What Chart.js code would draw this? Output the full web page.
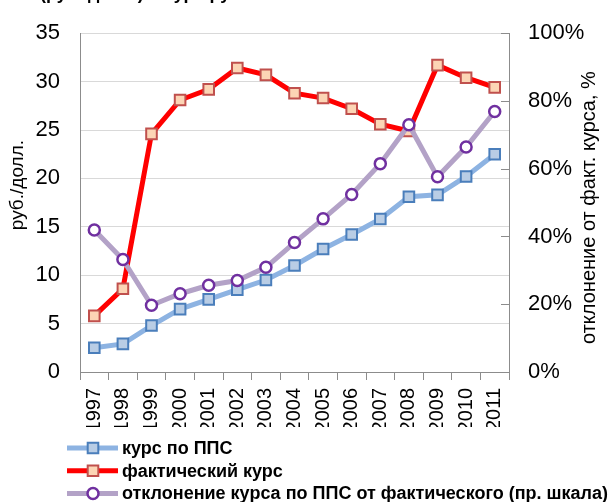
<!DOCTYPE html>
<html>
<head>
<meta charset="utf-8">
<script src="https://cdn.jsdelivr.net/npm/chart.js@4/dist/chart.umd.min.js"></script>
<style>
html,body{margin:0;padding:0;background:#fff;}
#wrap{width:614px;height:502px;position:relative;}
</style>
</head>
<body>
<div id="wrap"><canvas id="c" width="614" height="502"></canvas></div>
<script>
const years = ['1997','1998','1999','2000','2001','2002','2003','2004','2005','2006','2007','2008','2009','2010','2011'];
const pppRate = [2.5, 2.9, 4.8, 6.5, 7.5, 8.5, 9.5, 11.0, 12.7, 14.2, 15.8, 18.1, 18.3, 20.2, 22.5];
const actualRate = [5.8, 8.6, 24.6, 28.1, 29.2, 31.4, 30.7, 28.8, 28.3, 27.2, 25.6, 24.9, 31.7, 30.4, 29.4];
const deviationPct = [41.9, 33.2, 19.7, 23.1, 25.6, 27.0, 30.9, 38.2, 45.2, 52.4, 61.5, 73.0, 57.6, 66.4, 76.9];
const seriesNames = ['курс по ППС', 'фактический курс', 'отклонение курса по ППС от фактического (пр. шкала)'];
const leftTitle = 'руб./долл.';
const rightTitle = 'отклонение от факт. курса, %';
const topTitle = '(руб./долл.) и курс рубля по ППС';

const FONT = "'Liberation Sans', Arial, sans-serif";
Chart.defaults.color = '#000';
Chart.defaults.font.family = FONT;

const decor = {
  id: 'decor',
  beforeDatasetsDraw(chart) {
    const {ctx, chartArea: a, scales} = chart;
    const yr = scales.y1;
    ctx.save();
    ctx.strokeStyle = '#8c8c8c';
    ctx.lineWidth = 1;
    yr.ticks.forEach(t => {
      const y = Math.round(yr.getPixelForValue(t.value)) + 0.5;
      ctx.beginPath();
      ctx.moveTo(a.right - 8, y);
      ctx.lineTo(a.right, y);
      ctx.stroke();
    });
    ctx.restore();
  },
  afterDraw(chart) {
    const {ctx, chartArea: a} = chart;
    ctx.save();
    // top title, cut off by the picture edge
    ctx.font = "bold 18px " + FONT;
    ctx.fillStyle = '#000';
    ctx.textAlign = 'left';
    ctx.textBaseline = 'alphabetic';
    ctx.fillText(topTitle, 40, -1);
    // axis titles
    ctx.font = "19px " + FONT;
    ctx.textAlign = 'center';
    ctx.textBaseline = 'middle';
    const cy = (a.top + a.bottom) / 2;
    ctx.save();
    ctx.translate(18, cy - 17.5);
    ctx.rotate(-Math.PI / 2);
    ctx.fillText(leftTitle, 0, 0);
    ctx.restore();
    ctx.font = "20px " + FONT;
    ctx.save();
    ctx.translate(589, cy + 5);
    ctx.rotate(-Math.PI / 2);
    ctx.fillText(rightTitle, 0, 0);
    ctx.restore();
    // legend
    const order = [0, 1, 2];
    order.forEach((di, k) => {
      const ds = chart.data.datasets[di];
      const y = 448 + k * 22.7;
      ctx.save();
      ctx.strokeStyle = ds.borderColor;
      ctx.lineWidth = ds.borderWidth;
      ctx.beginPath();
      ctx.moveTo(67, y);
      ctx.lineTo(118, y);
      ctx.stroke();
      ctx.fillStyle = ds.pointBackgroundColor;
      ctx.strokeStyle = ds.pointBorderColor;
      ctx.lineWidth = ds.pointBorderWidth;
      Chart.helpers.drawPoint(ctx, {pointStyle: ds.pointStyle, radius: ds.pointRadius, borderWidth: ds.pointBorderWidth, rotation: 0}, 93, y);
      ctx.restore();
      ctx.font = "bold 18px " + FONT;
      ctx.fillStyle = '#000';
      ctx.textAlign = 'left';
      ctx.textBaseline = 'middle';
      ctx.fillText(seriesNames[di], 122, y + 1);
    });
    ctx.restore();
  }
};

new Chart(document.getElementById('c'), {
  type: 'line',
  data: {
    labels: years,
    datasets: [
      {
        label: seriesNames[0], data: pppRate, yAxisID: 'y', order: 3,
        borderColor: '#8db3e2', borderWidth: 5,
        pointStyle: 'rect', pointRadius: 7.5, pointBorderWidth: 2,
        pointBackgroundColor: '#b9cde5', pointBorderColor: '#4a7ebb'
      },
      {
        label: seriesNames[1], data: actualRate, yAxisID: 'y', order: 2,
        borderColor: '#ff0000', borderWidth: 5,
        pointStyle: 'rect', pointRadius: 7.5, pointBorderWidth: 2,
        pointBackgroundColor: '#fcd5b5', pointBorderColor: '#c0504d'
      },
      {
        label: seriesNames[2], data: deviationPct, yAxisID: 'y1', order: 1,
        borderColor: '#b3a2c7', borderWidth: 5,
        pointStyle: 'circle', pointRadius: 5.5, pointBorderWidth: 2.5,
        pointBackgroundColor: '#ffffff', pointBorderColor: '#7030a0'
      }
    ]
  },
  options: {
    responsive: false,
    animation: false,
    events: [],
    layout: {padding: {top: 23, bottom: 75, left: 0, right: 0}},
    plugins: {legend: {display: false}, tooltip: {enabled: false}, title: {display: false}},
    elements: {line: {tension: 0}},
    scales: {
      x: {
        offset: true,
        grid: {offset: true, drawOnChartArea: false, drawTicks: true, tickLength: 8, color: '#8c8c8c'},
        border: {color: '#8c8c8c'},
        ticks: {font: {size: 20}, minRotation: 90, maxRotation: 90, autoSkip: false, padding: 8},
        afterFit(s) { s.height = 55; }
      },
      y: {
        position: 'left', min: 0, max: 35,
        grid: {color: '#d9d9d9', drawTicks: false},
        border: {color: '#8c8c8c'},
        ticks: {stepSize: 5, font: {size: 22}, padding: 20},
        afterFit(s) { s.width = 80; }
      },
      y1: {
        position: 'right', min: 0, max: 100,
        grid: {drawOnChartArea: false, drawTicks: false},
        border: {color: '#8c8c8c'},
        ticks: {stepSize: 20, font: {size: 22}, padding: 19, callback: v => v + '%'},
        afterFit(s) { s.width = 105; }
      }
    }
  },
  plugins: [decor]
});
</script>
</body>
</html>
